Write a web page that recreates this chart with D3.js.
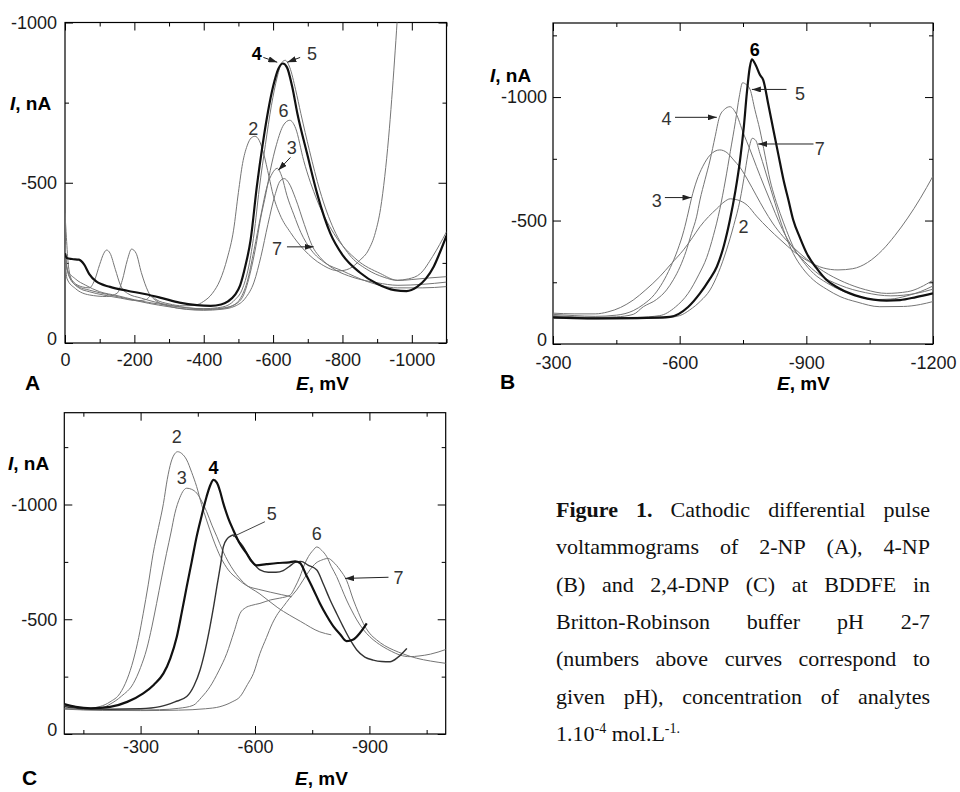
<!DOCTYPE html>
<html>
<head>
<meta charset="utf-8">
<script src="https://cdnjs.cloudflare.com/ajax/libs/d3/7.8.5/d3.min.js"></script>
<style>
  body { margin: 0; background: #fff; }
  svg { display: block; }
</style>
</head>
<body>
<script>
// ---------- data: [E in mV, I in nA] ----------

// Panel A, 2-NP, curves for pH 2..7
var a_pH2 = [[0,-405],[-4,-330],[-10,-240],[-20,-195],[-40,-172],[-70,-160],[-110,-150],[-160,-140],[-210,-132],[-235,-136],[-248,-148],[-262,-136],[-300,-122],[-340,-116],[-375,-118],[-400,-130],[-425,-155],[-447,-196],[-468,-265],[-486,-352],[-500,-470],[-512,-560],[-525,-615],[-537,-640],[-548,-645],[-560,-632],[-573,-590],[-588,-520],[-601,-458],[-620,-400],[-650,-345],[-690,-290],[-740,-245],[-790,-225],[-820,-232],[-850,-258],[-875,-290],[-895,-345],[-910,-420],[-922,-520],[-933,-640],[-942,-760],[-950,-880],[-958,-1010],[-963,-1100]];
var a_pH3 = [[0,-300],[-5,-240],[-15,-200],[-35,-178],[-70,-165],[-120,-152],[-180,-138],[-240,-124],[-300,-113],[-350,-106],[-400,-104],[-450,-107],[-480,-115],[-505,-138],[-525,-190],[-545,-290],[-565,-400],[-583,-490],[-598,-530],[-612,-545],[-625,-520],[-640,-460],[-660,-400],[-680,-345],[-710,-290],[-750,-250],[-800,-225],[-871,-192],[-958,-172],[-1030,-172],[-1100,-176]];
var a_pH4 = [[0,-280],[-5,-265],[-20,-262],[-40,-260],[-55,-245],[-70,-215],[-90,-192],[-130,-175],[-180,-163],[-230,-153],[-280,-140],[-330,-126],[-380,-118],[-420,-116],[-450,-120],[-470,-130],[-490,-150],[-505,-180],[-520,-240],[-535,-320],[-553,-487],[-570,-620],[-585,-720],[-600,-800],[-615,-855],[-628,-872],[-640,-860],[-655,-800],[-670,-716],[-698,-591],[-727,-466],[-765,-342],[-800,-275],[-850,-220],[-900,-185],[-950,-165],[-985,-162],[-1015,-175],[-1040,-200],[-1063,-238],[-1080,-280],[-1100,-335]];
var a_pH5 = [[0,-300],[-6,-230],[-30,-200],[-60,-180],[-100,-160],[-150,-148],[-200,-135],[-250,-125],[-300,-117],[-350,-110],[-400,-107],[-440,-110],[-470,-118],[-490,-135],[-510,-165],[-530,-240],[-545,-340],[-560,-480],[-578,-620],[-595,-740],[-612,-830],[-625,-875],[-635,-882],[-648,-860],[-665,-790],[-680,-716],[-705,-600],[-735,-475],[-775,-355],[-820,-275],[-870,-230],[-920,-205],[-960,-195],[-1000,-198],[-1050,-203],[-1100,-207]];
var a_pH6 = [[0,-310],[-6,-230],[-25,-190],[-50,-175],[-70,-172],[-85,-195],[-100,-245],[-112,-280],[-120,-290],[-130,-280],[-145,-230],[-160,-180],[-180,-155],[-220,-140],[-270,-125],[-320,-115],[-370,-108],[-420,-106],[-460,-110],[-490,-120],[-515,-150],[-534,-218],[-550,-300],[-563,-383],[-580,-470],[-592,-539],[-610,-620],[-630,-680],[-648,-695],[-665,-670],[-688,-570],[-727,-445],[-775,-342],[-842,-259],[-909,-217],[-958,-196],[-990,-200],[-1025,-217],[-1060,-270],[-1100,-347]];
var a_pH7 = [[0,-260],[-6,-200],[-30,-170],[-70,-150],[-120,-145],[-150,-155],[-165,-195],[-180,-260],[-192,-293],[-205,-280],[-220,-220],[-240,-160],[-265,-130],[-300,-115],[-350,-105],[-400,-102],[-450,-105],[-490,-115],[-520,-140],[-545,-190],[-565,-270],[-585,-370],[-605,-460],[-620,-505],[-632,-513],[-645,-500],[-665,-450],[-690,-370],[-712,-305],[-740,-262],[-780,-228],[-830,-205],[-900,-188],[-960,-180],[-1030,-183],[-1100,-190]];

// Panel B, 4-NP
var b_pH2 = [[-300,-125],[-350,-122],[-400,-122],[-430,-130],[-460,-148],[-490,-178],[-520,-220],[-553,-273],[-580,-325],[-609,-381],[-630,-430],[-648,-475],[-668,-515],[-688,-548],[-705,-575],[-720,-588],[-738,-583],[-760,-562],[-782,-518],[-810,-468],[-840,-420],[-870,-375],[-905,-335],[-940,-308],[-975,-300],[-1010,-305],[-1045,-330],[-1080,-380],[-1110,-440],[-1140,-510],[-1170,-590],[-1200,-680]];
var b_pH3 = [[-300,-120],[-350,-115],[-400,-112],[-451,-117],[-490,-135],[-514,-160],[-540,-200],[-560,-250],[-578,-310],[-595,-380],[-610,-460],[-620,-530],[-628,-590],[-640,-660],[-655,-720],[-672,-765],[-695,-786],[-712,-775],[-728,-745],[-743,-715],[-760,-668],[-782,-600],[-800,-545],[-820,-490],[-845,-435],[-870,-390],[-900,-345],[-940,-295],[-990,-250],[-1040,-220],[-1090,-205],[-1140,-212],[-1200,-258]];
var b_pH4 = [[-300,-115],[-350,-110],[-400,-108],[-450,-110],[-490,-120],[-514,-151],[-545,-180],[-569,-219],[-585,-260],[-601,-313],[-615,-375],[-628,-448],[-640,-515],[-648,-583],[-660,-665],[-672,-745],[-684,-840],[-694,-918],[-706,-950],[-719,-961],[-733,-935],[-751,-853],[-766,-790],[-782,-718],[-800,-640],[-818,-565],[-835,-495],[-852,-435],[-870,-385],[-895,-335],[-930,-282],[-980,-238],[-1040,-208],[-1100,-195],[-1160,-205],[-1200,-222]];
var b_pH5 = [[-300,-112],[-400,-106],[-500,-108],[-553,-115],[-590,-150],[-620,-205],[-645,-280],[-664,-350],[-680,-440],[-695,-545],[-708,-660],[-720,-780],[-732,-900],[-741,-1000],[-749,-1058],[-758,-1050],[-767,-1030],[-778,-950],[-790,-867],[-802,-765],[-814,-664],[-826,-590],[-838,-529],[-853,-460],[-869,-394],[-892,-335],[-917,-286],[-948,-248],[-980,-219],[-1020,-195],[-1059,-180],[-1100,-182],[-1138,-195],[-1170,-212],[-1200,-235]];
var b_pH6 = [[-300,-108],[-400,-104],[-500,-105],[-577,-110],[-620,-150],[-648,-205],[-670,-260],[-688,-313],[-705,-400],[-719,-502],[-732,-620],[-743,-745],[-752,-880],[-759,-1015],[-766,-1120],[-771,-1153],[-780,-1130],[-790,-1090],[-798,-1069],[-810,-970],[-822,-867],[-834,-765],[-846,-664],[-858,-580],[-869,-502],[-885,-430],[-901,-367],[-925,-305],[-948,-259],[-975,-228],[-1003,-205],[-1030,-190],[-1059,-180],[-1090,-176],[-1122,-178],[-1160,-190],[-1200,-205]];
var b_pH7 = [[-300,-104],[-400,-102],[-500,-103],[-553,-104],[-600,-115],[-624,-138],[-650,-175],[-672,-219],[-692,-290],[-711,-381],[-728,-480],[-743,-583],[-755,-700],[-764,-790],[-772,-833],[-780,-825],[-790,-772],[-802,-705],[-814,-637],[-826,-570],[-838,-502],[-853,-430],[-869,-367],[-892,-305],[-917,-259],[-948,-222],[-980,-192],[-1020,-170],[-1074,-151],[-1130,-152],[-1170,-160],[-1200,-172]];

// Panel C, 2,4-DNP
var c_pH2 = [[-100,-128],[-130,-118],[-160,-112],[-194,-120],[-220,-140],[-246,-177],[-265,-240],[-281,-322],[-295,-420],[-307,-526],[-320,-650],[-333,-787],[-347,-900],[-360,-1005],[-370,-1110],[-380,-1185],[-390,-1222],[-397,-1230],[-408,-1222],[-421,-1194],[-434,-1140],[-447,-1078],[-460,-1000],[-473,-932],[-490,-850],[-510,-770],[-530,-715],[-555,-675],[-580,-645],[-610,-630],[-640,-618],[-670,-607],[-696,-598]];
var c_pH3 = [[-100,-125],[-130,-117],[-160,-112],[-200,-115],[-220,-130],[-250,-165],[-281,-220],[-300,-290],[-316,-370],[-330,-470],[-342,-569],[-355,-680],[-368,-787],[-380,-880],[-390,-962],[-403,-1030],[-413,-1062],[-421,-1071],[-434,-1066],[-447,-1050],[-460,-1015],[-473,-970],[-487,-910],[-500,-860],[-515,-800],[-530,-750],[-545,-710],[-570,-660],[-613,-610],[-660,-550],[-720,-490],[-770,-445],[-800,-432]];
var c_pH4 = [[-100,-130],[-130,-118],[-170,-112],[-220,-118],[-265,-140],[-307,-177],[-335,-215],[-360,-264],[-378,-330],[-395,-424],[-408,-530],[-421,-642],[-434,-750],[-447,-860],[-460,-950],[-473,-1034],[-483,-1085],[-491,-1107],[-500,-1095],[-508,-1060],[-517,-1005],[-530,-940],[-543,-889],[-560,-830],[-578,-787],[-590,-755],[-604,-735],[-630,-740],[-660,-745],[-690,-748],[-705,-752],[-718,-745],[-735,-690],[-753,-630],[-770,-570],[-788,-515],[-805,-470],[-823,-435],[-840,-405],[-858,-412],[-875,-440],[-893,-482]];
var c_pH5 = [[-100,-120],[-150,-110],[-220,-108],[-300,-110],[-351,-119],[-390,-140],[-421,-163],[-440,-210],[-456,-279],[-470,-370],[-482,-468],[-492,-560],[-500,-642],[-510,-740],[-517,-816],[-527,-850],[-536,-862],[-543,-867],[-555,-845],[-569,-816],[-583,-775],[-596,-744],[-613,-715],[-635,-705],[-655,-705],[-674,-712],[-690,-730],[-705,-748],[-720,-752],[-740,-735],[-762,-715],[-780,-650],[-797,-584],[-814,-525],[-831,-468],[-849,-412],[-867,-366],[-888,-335],[-910,-322],[-932,-316],[-954,-315],[-975,-335],[-998,-373]];
var c_pH6 = [[-100,-112],[-150,-106],[-250,-104],[-350,-106],[-400,-112],[-438,-125],[-460,-160],[-482,-206],[-505,-275],[-526,-351],[-545,-445],[-561,-526],[-575,-550],[-590,-560],[-613,-569],[-640,-584],[-665,-592],[-692,-605],[-705,-640],[-718,-686],[-730,-740],[-740,-773],[-752,-800],[-762,-815],[-775,-800],[-788,-773],[-800,-730],[-814,-686],[-827,-635],[-840,-584],[-853,-540],[-867,-497],[-884,-455],[-901,-424],[-918,-400],[-936,-380],[-958,-360],[-980,-344],[-1006,-337],[-1030,-340],[-1060,-348],[-1100,-368]];
var c_pH7 = [[-100,-108],[-200,-103],[-300,-102],[-400,-104],[-470,-110],[-508,-119],[-540,-140],[-561,-163],[-580,-215],[-596,-264],[-613,-351],[-630,-420],[-645,-480],[-660,-525],[-674,-555],[-690,-590],[-709,-627],[-726,-670],[-744,-715],[-760,-745],[-775,-758],[-792,-765],[-805,-750],[-823,-715],[-840,-670],[-858,-584],[-871,-530],[-884,-482],[-900,-440],[-919,-410],[-940,-385],[-963,-366],[-990,-348],[-1024,-330],[-1060,-318],[-1100,-308]];

// tick values
var eMajorA = [0, -200, -400, -600, -800, -1000];
var eMinorA = [-100, -300, -500, -700, -900, -1100];
var eMajorB = [-300, -600, -900, -1200];
var eMinorB = [-450, -750, -1050];
var eMajorC = [-300, -600, -900];
var eMinorC = [-150, -450, -750, -1050];
var iMajor = [0, -500, -1000];
var iMinorAB = [-250, -750, -1250];

var caption = [
  "Figure 1. Cathodic differential pulse",
  "voltammograms of 2-NP (A), 4-NP",
  "(B) and 2,4-DNP (C) at BDDFE in",
  "Britton-Robinson buffer pH 2-7",
  "(numbers above curves correspond to",
  "given pH), concentration of analytes"
];

// ---------- layout ----------
var width = 960, height = 792;

var panels = [
  { id: 'A', x0: 65, x1: 446.5, y0: 22.5, y1: 343, eDom: [0, -1100], iDom: [0, -1000],
    eMajor: eMajorA, eMinor: eMinorA, iMinor: [-250, -750], padX: 10, padY: 8,
    curves: [[a_pH2, 'thin'], [a_pH3, 'thin'], [a_pH5, 'thin'], [a_pH6, 'thin'], [a_pH7, 'thin'], [a_pH4, 'bold']],
    labels: [['4', -553, -902, true], ['5', -712, -902], ['6', -630, -726], ['2', -543, -670], ['3', -654, -611], ['7', -611, -295]],
    arrows: [[-572, -891, -612, -876], [-678, -891, -641, -876], [-650, -579, -615, -539], [-640, -300, -717, -300]],
    yTitle: [10, 110], xTitle: [296, 390], letter: [25, 390] },
  { id: 'B', x0: 553, x1: 933, y0: 23, y1: 344, eDom: [-300, -1200], iDom: [0, -1300],
    eMajor: eMajorB, eMinor: eMinorB, iMinor: iMinorAB, padX: 12, padY: 6,
    curves: [[b_pH2, 'thin'], [b_pH3, 'thin'], [b_pH4, 'thin'], [b_pH5, 'thin'], [b_pH7, 'thin'], [b_pH6, 'bold']],
    labels: [['6', -778, -1194, true], ['5', -885, -1015], ['4', -569, -914], ['7', -932, -793], ['3', -546, -583], ['2', -751, -475]],
    arrows: [[-853, -1031, -771, -1031], [-589, -918, -688, -918], [-917, -810, -786, -810], [-565, -593, -628, -593]],
    yTitle: [490, 82], xTitle: [777, 390], letter: [500, 389] },
  { id: 'C', x0: 64.3, x1: 445.7, y0: 412.7, y1: 734, eDom: [-100, -1100], iDom: [0, -1400],
    eMajor: eMajorC, eMinor: eMinorC, iMinor: iMinorAB, padX: 6, padY: 7,
    curves: [[c_pH2, 'thin'], [c_pH3, 'thin'], [c_pH6, 'thin'], [c_pH7, 'thin'], [c_pH5, 'mid'], [c_pH4, 'bold']],
    labels: [['2', -395, -1295], ['3', -408, -1118], ['4', -491, -1160, true], ['5', -644, -959], ['6', -762, -875], ['7', -976, -683]],
    arrows: [[-950, -683, -836, -678]],
    leaders: [[-626, -925, -543, -860]],
    yTitle: [8, 470], xTitle: [295, 785], letter: [22, 785] }
];

var styles = {
  thin: { stroke: '#757575', width: 1 },
  mid: { stroke: '#333', width: 1.4 },
  bold: { stroke: '#111', width: 2.2 }
};

var svg = d3.select('body').append('svg')
    .attr('width', width)
    .attr('height', height)
    .style('font-family', '"Liberation Sans", Arial, sans-serif');

svg.append('defs').append('marker')
    .attr('id', 'arrow')
    .attr('markerUnits', 'userSpaceOnUse')
    .attr('markerWidth', 9).attr('markerHeight', 6)
    .attr('refX', 9).attr('refY', 3)
    .attr('orient', 'auto')
    .append('path').attr('d', 'M0,0L9,3L0,6z').attr('fill', '#222');

var fmt = function (d) { return String(d); };

panels.forEach(function (p) {
  var x = d3.scaleLinear().domain(p.eDom).range([p.x0, p.x1]);
  var y = d3.scaleLinear().domain(p.iDom).range([p.y1, p.y0]);
  var g = svg.append('g').attr('class', 'panel-' + p.id);

  g.append('clipPath').attr('id', 'clip' + p.id)
    .append('rect')
    .attr('x', p.x0).attr('y', p.y0)
    .attr('width', p.x1 - p.x0).attr('height', p.y1 - p.y0);

  // ticks pointing inward on all four sides
  function tidy(sel) {
    sel.select('.domain').remove();
    sel.selectAll('line').attr('stroke', '#000').attr('stroke-width', 1);
    sel.selectAll('text').attr('fill', '#1a1a1a').style('font-size', '18px')
      .style('font-family', '"Liberation Sans", Arial, sans-serif');
  }
  g.append('g').attr('transform', 'translate(0,' + p.y1 + ')')
    .call(d3.axisBottom(x).tickValues(p.eMajor).tickSizeInner(-8).tickSizeOuter(0)
      .tickPadding(p.padX).tickFormat(fmt)).call(tidy);
  g.append('g').attr('transform', 'translate(0,' + p.y1 + ')')
    .call(d3.axisBottom(x).tickValues(p.eMinor).tickSize(-4).tickFormat('')).call(tidy);
  g.append('g').attr('transform', 'translate(0,' + p.y0 + ')')
    .call(d3.axisTop(x).tickValues(p.eMajor).tickSize(-8).tickFormat('')).call(tidy);
  g.append('g').attr('transform', 'translate(0,' + p.y0 + ')')
    .call(d3.axisTop(x).tickValues(p.eMinor).tickSize(-4).tickFormat('')).call(tidy);
  g.append('g').attr('transform', 'translate(' + p.x0 + ',0)')
    .call(d3.axisLeft(y).tickValues(iMajor).tickSizeInner(-8).tickSizeOuter(0)
      .tickPadding(p.padY).tickFormat(fmt)).call(tidy);
  g.append('g').attr('transform', 'translate(' + p.x0 + ',0)')
    .call(d3.axisLeft(y).tickValues(p.iMinor).tickSize(-4).tickFormat('')).call(tidy);
  g.append('g').attr('transform', 'translate(' + p.x1 + ',0)')
    .call(d3.axisRight(y).tickValues(iMajor).tickSize(-8).tickFormat('')).call(tidy);
  g.append('g').attr('transform', 'translate(' + p.x1 + ',0)')
    .call(d3.axisRight(y).tickValues(p.iMinor).tickSize(-4).tickFormat('')).call(tidy);

  // the zero label sits just above the corner, as in the print
  g.selectAll('.tick text').filter(function (d) { return d === 0 && this.getAttribute('x') < 0; })
    .attr('dy', '0.1em');

  g.append('rect')
    .attr('x', p.x0).attr('y', p.y0)
    .attr('width', p.x1 - p.x0).attr('height', p.y1 - p.y0)
    .attr('fill', 'none').attr('stroke', '#000').attr('stroke-width', 1.2);

  var line = d3.line()
    .x(function (d) { return x(d[0]); })
    .y(function (d) { return y(d[1]); })
    .curve(d3.curveMonotoneX);

  g.append('g').attr('clip-path', 'url(#clip' + p.id + ')')
    .selectAll('path')
    .data(p.curves)
    .enter().append('path')
    .attr('d', function (d) { return line(d[0]); })
    .attr('fill', 'none')
    .attr('stroke', function (d) { return styles[d[1]].stroke; })
    .attr('stroke-width', function (d) { return styles[d[1]].width; })
    .attr('stroke-linejoin', 'round');

  g.selectAll('line.arrow')
    .data(p.arrows)
    .enter().append('line')
    .attr('class', 'arrow')
    .attr('x1', function (d) { return x(d[0]); })
    .attr('y1', function (d) { return y(d[1]); })
    .attr('x2', function (d) { return x(d[2]); })
    .attr('y2', function (d) { return y(d[3]); })
    .attr('stroke', '#222').attr('stroke-width', 1)
    .attr('marker-end', 'url(#arrow)');

  g.selectAll('line.leader')
    .data(p.leaders || [])
    .enter().append('line')
    .attr('class', 'leader')
    .attr('x1', function (d) { return x(d[0]); })
    .attr('y1', function (d) { return y(d[1]); })
    .attr('x2', function (d) { return x(d[2]); })
    .attr('y2', function (d) { return y(d[3]); })
    .attr('stroke', '#444').attr('stroke-width', 1);

  g.selectAll('text.lab')
    .data(p.labels)
    .enter().append('text')
    .attr('class', 'lab')
    .attr('x', function (d) { return x(d[1]); })
    .attr('y', function (d) { return y(d[2]); })
    .attr('dy', '0.36em')
    .attr('text-anchor', 'middle')
    .style('font-size', '18px')
    .style('font-weight', function (d) { return d[3] ? 'bold' : 'normal'; })
    .attr('fill', function (d) { return d[3] ? '#000' : '#333'; })
    .text(function (d) { return d[0]; });

  // axis titles and panel letter
  var yt = g.append('text').attr('x', p.yTitle[0]).attr('y', p.yTitle[1])
    .style('font-size', '19px').style('font-weight', 'bold');
  yt.append('tspan').style('font-style', 'italic').text('I');
  yt.append('tspan').text(', nA');

  var xt = g.append('text').attr('x', p.xTitle[0]).attr('y', p.xTitle[1])
    .style('font-size', '19px').style('font-weight', 'bold');
  xt.append('tspan').style('font-style', 'italic').text('E');
  xt.append('tspan').text(', mV');

  g.append('text').attr('x', p.letter[0]).attr('y', p.letter[1])
    .style('font-size', '21px').style('font-weight', 'bold')
    .text(p.id);
});

// ---------- caption, justified like the printed page ----------
var capLeft = 556, capRight = 930, capTop = 517, capStep = 37.3, capSize = 22;
var cap = svg.append('g')
    .style('font-family', '"Liberation Serif", "Times New Roman", serif')
    .style('font-size', capSize + 'px')
    .attr('fill', '#111');

caption.forEach(function (txt, li) {
  var words = txt.split(' ');
  var nodes = words.map(function (w, wi) {
    return cap.append('text')
      .attr('y', capTop + li * capStep)
      .style('font-weight', (li === 0 && wi < 2) ? 'bold' : 'normal')
      .text(w);
  });
  var widths = nodes.map(function (n) { return n.node().getComputedTextLength(); });
  var gap = (capRight - capLeft - d3.sum(widths)) / (words.length - 1);
  var cx = capLeft;
  nodes.forEach(function (n, i) {
    n.attr('x', cx);
    cx += widths[i] + gap;
  });
});

var last = cap.append('text').attr('x', capLeft).attr('y', capTop + 6 * capStep);
last.append('tspan').text('1.10');
last.append('tspan').attr('dy', -8).style('font-size', '14px').text('-4');
last.append('tspan').attr('dy', 8).text(' mol.L');
last.append('tspan').attr('dy', -8).style('font-size', '14px').text('-1.');
</script>
</body>
</html>
